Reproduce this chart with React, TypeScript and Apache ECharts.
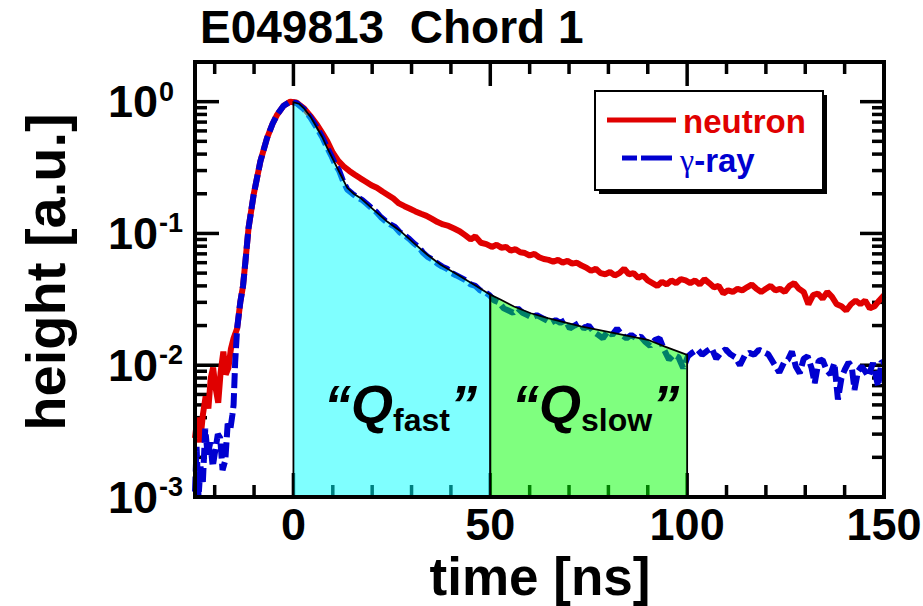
import { useEffect, useRef } from "react";
import * as echarts from "echarts";

// ---------- data ----------
const neutronTime = [
  -25.0, -24.4, -23.7, -23.0, -22.3, -21.6, -21.0, -20.4, -19.8, -19.1, -18.5, -17.8, -17.2, -16.5, -15.9, -15.2,
  -14.3, -13.5, -12.8, -12.2, -11.4, -10.1, -8.4, -6.7, -5.3, -4.1, -2.5, -0.8, 0.8, 2.6, 4.3, 6.0, 7.3, 8.6,
  10.0, 11.4, 12.8, 14.2, 15.6, 17.0, 18.4, 19.8, 21.2, 22.6, 24.0, 25.4, 26.8, 28.2, 29.6, 31.0, 32.4, 33.8,
  35.2, 36.6, 38.0, 39.4, 40.8, 42.2, 43.6, 45.0, 46.2, 47.6, 49.0, 50.4, 51.6, 52.8, 54.0, 55.2, 56.4, 57.6,
  58.8, 60.0, 61.2, 62.4, 63.6, 64.8, 66.0, 67.2, 68.4, 69.6, 70.8, 72.0, 73.2, 74.4, 75.6, 76.8, 78.0, 79.2,
  80.4, 81.6, 82.8, 84.0, 85.2, 86.4, 87.6, 88.8, 90.0, 91.2, 92.4, 93.6, 94.8, 96.0, 97.2, 98.4, 99.6, 100.8,
  102.0, 103.2, 104.4, 105.6, 106.8, 108.0, 109.2, 110.4, 111.6, 112.8, 114.0, 115.2, 116.4, 117.6, 118.8, 120.0,
  121.2, 122.4, 123.6, 124.8, 126.0, 127.2, 128.4, 129.6, 130.8, 132.0, 133.2, 134.4, 135.6, 136.8, 138.0, 139.2,
  140.4, 141.6, 142.8, 144.0, 145.2, 146.4, 147.6, 148.8, 150.0,
];
const neutronHeight = [
  0.0028, 0.004, 0.0026, 0.0042, 0.0058, 0.0047, 0.008, 0.0096, 0.0068, 0.0052, 0.0088, 0.0127, 0.0085, 0.0096, 0.0132, 0.016,
  0.019, 0.03, 0.04, 0.061, 0.11, 0.197, 0.352, 0.53, 0.68, 0.8, 0.93, 1.0, 0.985, 0.895, 0.78, 0.668, 0.58, 0.5,
  0.41, 0.355, 0.322, 0.298, 0.279, 0.262, 0.247, 0.232, 0.222, 0.208, 0.196, 0.184, 0.169, 0.161, 0.154, 0.147, 0.141, 0.136,
  0.129, 0.122, 0.117, 0.114, 0.109, 0.104, 0.097, 0.09, 0.095, 0.085, 0.083, 0.079, 0.082, 0.078, 0.079, 0.074, 0.076, 0.072,
  0.071, 0.068, 0.07, 0.066, 0.064, 0.063, 0.061, 0.063, 0.06, 0.062, 0.059, 0.06, 0.057, 0.055, 0.052, 0.054, 0.05, 0.049,
  0.051, 0.048, 0.05, 0.054, 0.049, 0.05, 0.046, 0.048, 0.044, 0.042, 0.04, 0.043, 0.041, 0.044, 0.042, 0.045, 0.044, 0.042,
  0.044, 0.041, 0.045, 0.042, 0.039, 0.04, 0.035, 0.037, 0.036, 0.038, 0.037, 0.039, 0.041, 0.038, 0.036, 0.038,
  0.04, 0.037, 0.038, 0.036, 0.04, 0.042, 0.038, 0.036, 0.029, 0.034, 0.035, 0.032, 0.036, 0.033, 0.029, 0.028,
  0.026, 0.029, 0.031, 0.029, 0.031, 0.027, 0.028, 0.031, 0.034,
];
const gammaTime = [
  -25.0, -24.6, -24.1, -23.6, -23.0, -22.4, -21.8, -21.1, -20.5, -19.8, -19.2, -18.6, -18.0, -17.3, -16.7, -16.0,
  -15.5, -15.2, -14.8, -14.3, -13.5, -12.8, -12.2, -11.4, -10.1, -8.4, -6.7, -5.3, -4.1, -2.5, -0.8, 0.8, 2.6, 4.3,
  6.0, 7.3, 8.6, 9.6, 10.6, 11.6, 12.6, 13.7, 15.0, 16.2, 17.4, 18.6, 19.8, 21.0, 22.2, 23.4, 24.6, 25.8, 27.0,
  28.2, 29.4, 30.6, 31.8, 33.0, 34.2, 35.4, 36.6, 37.8, 39.0, 40.2, 41.4, 42.6, 43.8, 45.0, 46.2, 47.4, 48.6, 49.8,
  51.0, 52.2, 53.4, 54.6, 55.8, 57.0, 58.2, 59.4, 60.6, 61.8, 63.0, 64.2, 65.4, 66.6, 67.8, 69.0, 70.2, 71.4, 72.6,
  73.8, 75.0, 76.2, 77.4, 78.6, 79.8, 81.0, 82.2, 83.4, 84.6, 85.8, 87.0, 88.2, 89.4, 90.6, 91.8, 93.0, 94.2, 95.4,
  96.6, 97.8, 99.0, 100.2, 101.4, 102.6, 103.8, 105.0, 106.2, 107.4, 108.6, 109.8, 111.0, 112.2, 113.4, 114.6, 115.8,
  117.0, 118.2, 119.4, 120.6, 122.2, 123.4, 124.6, 125.6, 126.6, 127.6, 128.6, 129.6, 130.6, 131.6, 132.4, 133.4,
  134.4, 135.4, 136.4, 137.4, 138.3, 139.2, 140.0, 141.0, 141.8, 142.5, 143.4, 144.3, 145.2, 146.0, 147.2, 148.5,
  149.4, 150.0,
];
const gammaHeight = [
  0.0011, 0.0024, 0.001, 0.0017, 0.0013, 0.0033, 0.0021, 0.0026, 0.0017, 0.0023, 0.003, 0.0028, 0.0016, 0.0019, 0.0036, 0.0033,
  0.0042, 0.005, 0.0105, 0.019, 0.03, 0.04, 0.061, 0.11, 0.197, 0.352, 0.53, 0.68, 0.8, 0.93, 1.0, 0.975, 0.88, 0.76,
  0.63, 0.54, 0.445, 0.39, 0.335, 0.3, 0.25, 0.215, 0.2, 0.188, 0.18, 0.168, 0.156, 0.146, 0.133, 0.124, 0.117, 0.112, 0.102,
  0.097, 0.091, 0.084, 0.079, 0.071, 0.066, 0.063, 0.059, 0.056, 0.054, 0.05, 0.048, 0.046, 0.044, 0.041, 0.04, 0.037, 0.036, 0.034,
  0.031, 0.03, 0.027, 0.026, 0.025, 0.027, 0.025, 0.024, 0.023, 0.024, 0.023, 0.022, 0.021, 0.022, 0.021, 0.022, 0.019, 0.02, 0.021,
  0.019, 0.02, 0.018, 0.017, 0.016, 0.018, 0.017, 0.019, 0.017, 0.016, 0.017, 0.016, 0.0165, 0.015, 0.014, 0.0155, 0.016, 0.013, 0.011,
  0.012, 0.0115, 0.0095, 0.0117, 0.0125, 0.0132, 0.012, 0.0128, 0.0135, 0.0112, 0.0125, 0.0132, 0.0121, 0.0115, 0.01, 0.0118, 0.0124,
  0.012, 0.0131, 0.0126, 0.0121, 0.0101, 0.0088, 0.0105, 0.011, 0.0127, 0.0098, 0.0087, 0.0112, 0.0117, 0.0095, 0.0073, 0.0108,
  0.011, 0.0092, 0.0085, 0.0104, 0.0055, 0.008, 0.0092, 0.0105, 0.0098, 0.0065, 0.009, 0.0098, 0.009, 0.0082, 0.0104, 0.0069,
  0.0107, 0.0105,
];
const fitTime = [0, 1.5, 2.6, 4.3, 6.0, 7.3, 8.6, 10.3, 12.0, 13.7, 15.3, 17.0, 20.4, 23.8, 27.2, 30.6, 34.0, 37.4, 41.7, 45.9, 50, 52.7, 56.0, 60.3, 64.6, 73.0, 81.5, 90.0, 94.2, 100];
const fitHeight = [0.99, 0.96, 0.895, 0.77, 0.631, 0.54, 0.445, 0.352, 0.279, 0.221, 0.2, 0.186, 0.151, 0.123, 0.104, 0.0845, 0.069, 0.0578, 0.0486, 0.0408, 0.0343, 0.0314, 0.0279, 0.0248, 0.0228, 0.0197, 0.0175, 0.0156, 0.0139, 0.012];
const chargeWindowStart = [0, 50];
const chargeWindowEnd = [50, 100];
const chargeWindowNames = ["fast", "slow"];
const xMajorTicks = [0, 50, 100, 150];
const xMinorTicks = [-20, -10, 10, 20, 30, 40, 60, 70, 80, 90, 110, 120, 130, 140];
const yMajorTicks = [0.001, 0.01, 0.1, 1];
const yTickExponents = ["-3", "-2", "-1", "0"];
const yMinorMantissas = [2, 3, 4, 5, 6, 7, 8, 9];
const yMinorDecades = [0.001, 0.01, 0.1];

const X_MIN = -25;
const X_MAX = 150;
const Y_MIN = 0.001;
const Y_MAX = 2;
const FONT = '"Liberation Sans", Arial, Helvetica, sans-serif';
const RED = "#e00000";
const BLUE = "#0000d0";

export default function App() {
  const ref = useRef<HTMLDivElement>(null);
  useEffect(() => {
    const el = ref.current;
    if (!el) return;
    const chart = echarts.init(el, null, { renderer: "svg" });
    const zip = (a: number[], b: number[]) => a.map((t, i) => [t, b[i]]);

    const xTickData = [
      ...xMajorTicks.map((v) => [v, 1, 1]),
      ...xMinorTicks.map((v) => [v, 1, 0]),
    ];
    const yMinor: number[] = [];
    yMinorDecades.forEach((d) => yMinorMantissas.forEach((m) => yMinor.push(+(m * d).toPrecision(3))));
    const yTickData = [
      ...yMajorTicks.map((v, i) => [0, v, 1, i]),
      ...yMinor.map((v) => [0, v, 0, -1]),
    ];
    const regionData = chargeWindowStart.map((s, i) => [s, chargeWindowEnd[i], i]);
    const regionColors = ["rgba(0,255,255,0.5)", "rgba(0,255,0,0.5)"];

    const tickStyle = { stroke: "#000", lineWidth: 3.5 };

    const qRich = {
      q: { fontFamily: FONT, fontWeight: "bold", fontStyle: "italic", fontSize: 54, fill: "#000", color: "#000" },
      Q: { fontFamily: FONT, fontWeight: "bold", fontStyle: "italic", fontSize: 54, fill: "#000", color: "#000" },
      s: { fontFamily: FONT, fontWeight: "bold", fontSize: 32, fill: "#000", color: "#000", padding: [32, 0, 0, 0] },
    };

    const option: any = {
      animation: false,
      backgroundColor: "#fff",
      grid: { left: 195, top: 62, width: 689, height: 435, containLabel: false },
      xAxis: {
        type: "value",
        min: X_MIN,
        max: X_MAX,
        axisLine: { show: false },
        axisTick: { show: false },
        axisLabel: { show: false },
        splitLine: { show: false },
      },
      yAxis: {
        type: "log",
        logBase: 10,
        min: Y_MIN,
        max: Y_MAX,
        axisLine: { show: false },
        axisTick: { show: false },
        axisLabel: { show: false },
        splitLine: { show: false },
      },
      series: [
        {
          type: "custom",
          name: "xticks",
          z: 1,
          silent: true,
          data: xTickData,
          renderItem: (params: any, api: any) => {
            const t = api.value(0);
            const major = api.value(2) === 1;
            const p = api.coord([t, 1]);
            const cs = params.coordSys;
            const len = major ? 24 : 12;
            const bottom = cs.y + cs.height;
            const children: any[] = [
              { type: "line", shape: { x1: p[0], y1: bottom, x2: p[0], y2: bottom - len }, style: tickStyle },
              { type: "line", shape: { x1: p[0], y1: cs.y, x2: p[0], y2: cs.y + len }, style: tickStyle },
            ];
            if (major) {
              children.push({
                type: "text",
                style: {
                  text: String(t),
                  x: p[0],
                  y: bottom + 27,
                  align: "center",
                  verticalAlign: "middle",
                  fontFamily: FONT,
                  fontWeight: "bold",
                  fontSize: 45,
                  fill: "#000",
                },
              });
            }
            return { type: "group", children };
          },
        },
        {
          type: "custom",
          name: "yticks",
          z: 1,
          silent: true,
          data: yTickData,
          renderItem: (params: any, api: any) => {
            const v = api.value(1);
            const major = api.value(2) === 1;
            const idx = api.value(3);
            const p = api.coord([0, v]);
            const cs = params.coordSys;
            const len = major ? 24 : 12;
            const right = cs.x + cs.width;
            const children: any[] = [
              { type: "line", shape: { x1: cs.x, y1: p[1], x2: cs.x + len, y2: p[1] }, style: tickStyle },
              { type: "line", shape: { x1: right, y1: p[1], x2: right - len, y2: p[1] }, style: tickStyle },
            ];
            if (major) {
              children.push({
                type: "text",
                style: {
                  text: "10",
                  x: cs.x - 37,
                  y: p[1],
                  align: "right",
                  verticalAlign: "middle",
                  fontFamily: FONT,
                  fontWeight: "bold",
                  fontSize: 45,
                  fill: "#000",
                },
              });
              children.push({
                type: "text",
                style: {
                  text: yTickExponents[idx],
                  x: cs.x - 36,
                  y: p[1] - 10,
                  align: "left",
                  verticalAlign: "middle",
                  fontFamily: FONT,
                  fontWeight: "bold",
                  fontSize: 27,
                  fill: "#000",
                },
              });
            }
            return { type: "group", children };
          },
        },
        {
          type: "line",
          name: "neutron",
          z: 2,
          data: zip(neutronTime, neutronHeight),
          showSymbol: false,
          symbol: "none",
          clip: true,
          lineStyle: { color: RED, width: 6 },
        },
        {
          type: "line",
          name: "γ-ray",
          z: 2,
          data: zip(gammaTime, gammaHeight),
          showSymbol: false,
          symbol: "none",
          clip: true,
          lineStyle: { color: BLUE, width: 6, type: [15, 5] },
        },
        {
          type: "custom",
          name: "charge windows",
          z: 3,
          silent: true,
          data: regionData,
          renderItem: (params: any, api: any) => {
            const s = api.value(0);
            const e = api.value(1);
            const i = api.value(2);
            const pts: number[][] = [];
            for (let k = 0; k < fitTime.length; k++) {
              if (fitTime[k] >= s && fitTime[k] <= e) pts.push(api.coord([fitTime[k], fitHeight[k]]));
            }
            pts.push(api.coord([e, Y_MIN]));
            pts.push(api.coord([s, Y_MIN]));
            return {
              type: "polygon",
              shape: { points: pts },
              style: { fill: regionColors[i], stroke: "#000", lineWidth: 1.8 },
            };
          },
        },
        {
          type: "custom",
          name: "frame",
          z: 4,
          silent: true,
          data: [[X_MIN, Y_MIN]],
          renderItem: (params: any) => {
            const cs = params.coordSys;
            return {
              type: "rect",
              shape: { x: cs.x, y: cs.y, width: cs.width, height: cs.height },
              style: { fill: "none", stroke: "#000", lineWidth: 4 },
            };
          },
        },
      ],
      graphic: [
        {
          type: "text",
          x: 200,
          y: 27,
          z: 10,
          style: { text: "E049813  Chord 1", fontFamily: FONT, fontWeight: "bold", fontSize: 46, fill: "#000", align: "left", verticalAlign: "middle" },
        },
        {
          type: "text",
          x: 540,
          y: 576,
          z: 10,
          style: { text: "time [ns]", fontFamily: FONT, fontWeight: "bold", fontSize: 53, fill: "#000", align: "center", verticalAlign: "middle" },
        },
        {
          type: "text",
          x: 45,
          y: 272,
          z: 10,
          rotation: Math.PI / 2,
          style: { text: "height [a.u.]", fontFamily: FONT, fontWeight: "bold", fontSize: 56, fill: "#000", align: "center", verticalAlign: "middle" },
        },
        // legend
        { type: "rect", z: 10, shape: { x: 599, y: 95, width: 228, height: 99 }, style: { fill: "#000" } },
        { type: "rect", z: 11, shape: { x: 595, y: 91, width: 228, height: 99 }, style: { fill: "#fff", stroke: "#000", lineWidth: 2 } },
        { type: "line", z: 12, shape: { x1: 607, y1: 120, x2: 676, y2: 120 }, style: { stroke: RED, lineWidth: 5 } },
        { type: "line", z: 12, shape: { x1: 622, y1: 158, x2: 637, y2: 158 }, style: { stroke: BLUE, lineWidth: 5 } },
        { type: "line", z: 12, shape: { x1: 641, y1: 158, x2: 672, y2: 158 }, style: { stroke: BLUE, lineWidth: 5 } },
        {
          type: "text", x: 683, y: 121, z: 12,
          style: { text: "neutron", fontFamily: FONT, fontWeight: "bold", fontSize: 33, fill: RED, align: "left", verticalAlign: "middle" },
        },
        {
          type: "text", x: 680, y: 160, z: 12,
          style: {
            text: "{g|γ}{r|-ray}",
            rich: {
              g: { fontFamily: '"Liberation Serif", "DejaVu Serif", serif', fontSize: 32, fill: BLUE, color: BLUE },
              r: { fontFamily: FONT, fontWeight: "bold", fontSize: 33, fill: BLUE, color: BLUE },
            },
            align: "left",
            verticalAlign: "middle",
          },
        },
        // Q labels
        {
          type: "text", x: 324, y: 404, z: 12,
          style: { text: `{q|“}{Q|Q}{s|${chargeWindowNames[0]}}{q|”}`, rich: qRich, align: "left", verticalAlign: "middle" },
        },
        {
          type: "text", x: 512, y: 404, z: 12,
          style: { text: `{q|“}{Q|Q}{s|${chargeWindowNames[1]}}{q|”}`, rich: qRich, align: "left", verticalAlign: "middle" },
        },
      ],
    };
    chart.setOption(option);
    return () => chart.dispose();
  }, []);
  return (
    <div
      ref={ref}
      style={{ position: "fixed", left: 0, top: 0, width: 923, height: 606, background: "#fff" }}
    />
  );
}
